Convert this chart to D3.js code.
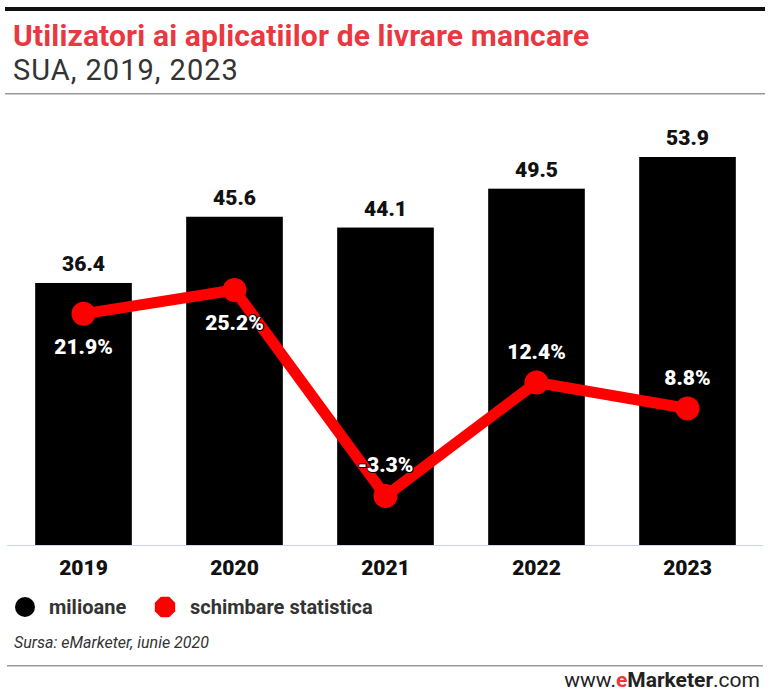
<!DOCTYPE html>
<html><head><meta charset="utf-8">
<script src="https://cdn.jsdelivr.net/npm/d3@7"></script>
<style>body{margin:0;background:#fff}svg{display:block}text{font-family:Roboto,"Noto Sans",sans-serif}</style>
</head><body><svg id="c" width="770" height="695"></svg>
<script>
const categories = ["2019","2020","2021","2022","2023"];
const users = [36.4, 45.6, 44.1, 49.5, 53.9];
const change = [21.9, 25.2, -3.3, 12.4, 8.8];
const changeLabels = ["21.9%","25.2%","-3.3%","12.4%","8.8%"];
const labelBelow = [true, true, false, false, false];

const svg = d3.select("#c");
svg.append("rect").attr("x",5).attr("y",7).attr("width",760).attr("height",4).attr("fill","#111");
svg.append("text").attr("x",13).attr("y",46).attr("font-size",30).attr("font-weight","bold").attr("fill","#e9383f").attr("letter-spacing","0.15").text("Utilizatori ai aplicatiilor de livrare mancare");
svg.append("text").attr("x",13).attr("y",80).attr("font-size",29).attr("fill","#333").attr("letter-spacing","1.0").text("SUA, 2019, 2023");
svg.append("rect").attr("x",5).attr("y",93).attr("width",760).attr("height",1.5).attr("fill","#999");

const x = d3.scaleBand().domain(categories).range([8,763]).paddingInner(0.36).paddingOuter(0.18);
const y = d3.scaleLinear().domain([0,53.9]).range([545,157]);
const y2 = d3.scaleLinear().domain([-3.3,25.2]).range([496,290]);

svg.selectAll(".bar").data(users).enter().append("rect")
  .attr("x",(d,i)=>x(categories[i])).attr("width",x.bandwidth())
  .attr("y",d=>y(d)).attr("height",d=>y(0)-y(d)).attr("fill","#000");

const axis = svg.append("g").attr("transform","translate(0,545)").call(d3.axisBottom(x).tickSize(0).tickPadding(15));
axis.select(".domain").attr("stroke","#ccd6eb").attr("d","M7,0.5H763");
axis.selectAll("text").attr("font-size",21).attr("font-weight",900).attr("fill","#111").attr("font-family","Roboto,sans-serif");

svg.selectAll(".vl").data(users).enter().append("text")
  .attr("x",(d,i)=>x(categories[i])+x.bandwidth()/2).attr("y",d=>y(d)-12)
  .attr("text-anchor","middle").attr("font-size",21).attr("font-weight",900).attr("fill","#111").text(d=>d.toFixed(1));

const line = d3.line().x((d,i)=>x(categories[i])+x.bandwidth()/2).y(d=>y2(d));
svg.append("path").datum(change).attr("d",line).attr("fill","none").attr("stroke","#ff0000").attr("stroke-width",11).attr("stroke-linejoin","round");
svg.selectAll(".pt").data(change).enter().append("circle")
  .attr("cx",(d,i)=>x(categories[i])+x.bandwidth()/2).attr("cy",d=>y2(d)).attr("r",12).attr("fill","#ff0000");

svg.selectAll(".cl").data(change).enter().append("text")
  .attr("x",(d,i)=>x(categories[i])+x.bandwidth()/2)
  .attr("y",(d,i)=>labelBelow[i] ? y2(d)+40 : y2(d)-24)
  .attr("text-anchor","middle").attr("font-size",21).attr("font-weight",900)
  .attr("fill","#fff").attr("stroke","#000").attr("stroke-width",2).attr("paint-order","stroke").attr("stroke-linejoin","round")
  .text((d,i)=>changeLabels[i]);

// legend
svg.append("circle").attr("cx",25).attr("cy",607).attr("r",10).attr("fill","#000");
svg.append("text").attr("x",49).attr("y",614).attr("font-size",20).attr("font-weight","bold").attr("fill","#333").text("milioane");
const oct = d3.range(8).map(k=>{const a=Math.PI/8+k*Math.PI/4;return [165+11*Math.cos(a),607+11*Math.sin(a)];});
svg.append("polygon").attr("points",oct.map(p=>p.join(",")).join(" ")).attr("fill","#ff0000");
svg.append("text").attr("x",190).attr("y",614).attr("font-size",20).attr("font-weight","bold").attr("fill","#333").text("schimbare statistica");

svg.append("text").attr("x",14).attr("y",648).attr("font-size",16).attr("font-style","italic").attr("fill","#333").text("Sursa: eMarketer, iunie 2020");
svg.append("rect").attr("x",7).attr("y",665).attr("width",756).attr("height",1.5).attr("fill","#999");
const w = svg.append("text").attr("x",760).attr("y",687).attr("text-anchor","end").attr("font-size",21).attr("fill","#222").attr("font-family","Arial,'Liberation Sans',sans-serif");
w.append("tspan").text("www.");
w.append("tspan").attr("fill","#e9383f").attr("font-weight","bold").text("e");
w.append("tspan").attr("font-weight","bold").text("Marketer");
w.append("tspan").text(".com");
</script></body></html>
